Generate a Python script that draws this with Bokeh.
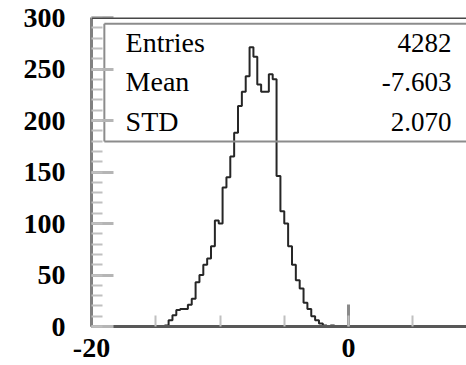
from bokeh.plotting import figure
from bokeh.models import SingleIntervalTicker, Span, Label
from bokeh.embed import file_html
from bokeh.resources import INLINE

# Histogram contents: 0.3-wide bins starting at -14.9
bin_start = -14.9
bin_width = 0.3
counts = [0, 0, 1, 6, 11, 16, 17, 17, 21, 27,
          43, 50, 60, 66, 78, 103, 100, 135, 145, 165,
          188, 214, 228, 243, 271, 262, 235, 228, 228, 245,
          240, 146, 112, 100, 78, 60, 45, 37, 23, 17,
          10, 6, 3, 1, 0, 1, 0]

# Statistics box entries
stat_names = ["Entries", "Mean", "STD"]
stat_values = ["4282", "-7.603", "2.070"]

# Tick labels written with a plain hyphen
x_tick_labels = {-20: "-20", 0: "0"}

x_lo, x_hi = -20, 9.18
y_lo, y_hi = 0, 300

p = figure(width=466, height=365, x_range=(x_lo, x_hi), y_range=(y_lo, y_hi),
           output_backend="svg", toolbar_location=None,
           min_border_left=91, min_border_right=0,
           min_border_top=17, min_border_bottom=39)
p.grid.visible = False
p.outline_line_color = None
p.background_fill_color = "white"
p.border_fill_color = "white"

edges = [bin_start + i * bin_width for i in range(len(counts) + 1)]
p.step(x=edges, y=counts + [counts[-1]], mode="after",
       line_color="#262626", line_width=2)

# Axes styled like a ROOT frame
serif = "Liberation Serif"
p.xaxis.ticker = SingleIntervalTicker(interval=20, num_minor_ticks=4)
p.yaxis.ticker = SingleIntervalTicker(interval=50, num_minor_ticks=5)
p.xaxis.major_label_overrides = x_tick_labels
for ax in (p.xaxis[0], p.yaxis[0]):
    ax.major_tick_in = 22
    ax.major_tick_out = 0
    ax.minor_tick_in = 11
    ax.minor_tick_out = 0
    ax.major_tick_line_color = "#b5b5b5"
    ax.minor_tick_line_color = "#c0c0c0"
    ax.major_tick_line_width = 3
    ax.minor_tick_line_width = 2
    ax.major_label_text_font = serif
    ax.major_label_text_font_style = "bold"
    ax.major_label_text_font_size = "28px"
    ax.major_label_text_color = "black"
    ax.axis_line_width = 3
p.yaxis.axis_line_color = "#808080"
p.xaxis.axis_line_color = "#585858"
p.xaxis.major_tick_line_color = "#8a8a8a"
p.yaxis.major_label_standoff = 26
p.xaxis.major_label_standoff = 12

# Upper frame edge
p.add_layout(Span(location=y_hi, dimension="width", line_color="#474747", line_width=3))

# Statistics box outline (open to the right)
box_left, box_right = -19.0, 12.0
box_top, box_bottom = 294.0, 179.5
p.multi_line(xs=[[box_left, box_left], [box_left, box_right], [box_left, box_right]],
             ys=[[box_bottom, box_top], [box_top, box_top], [box_bottom, box_bottom]],
             line_color="#8c8c8c", line_width=2)

name_x = -17.35
value_x = 8.02
row_y = [275.7, 237.8, 198.9]
for name, val, yy in zip(stat_names, stat_values, row_y):
    p.add_layout(Label(x=name_x, y=yy, text=name, text_font=serif,
                       text_font_size="28px", text_baseline="middle", text_align="left",
                       text_color="black"))
    p.add_layout(Label(x=value_x, y=yy, text=val, text_font=serif,
                       text_font_size="27px", text_baseline="middle", text_align="right",
                       text_color="black"))

open("out.html", "w").write(file_html(p, INLINE))
